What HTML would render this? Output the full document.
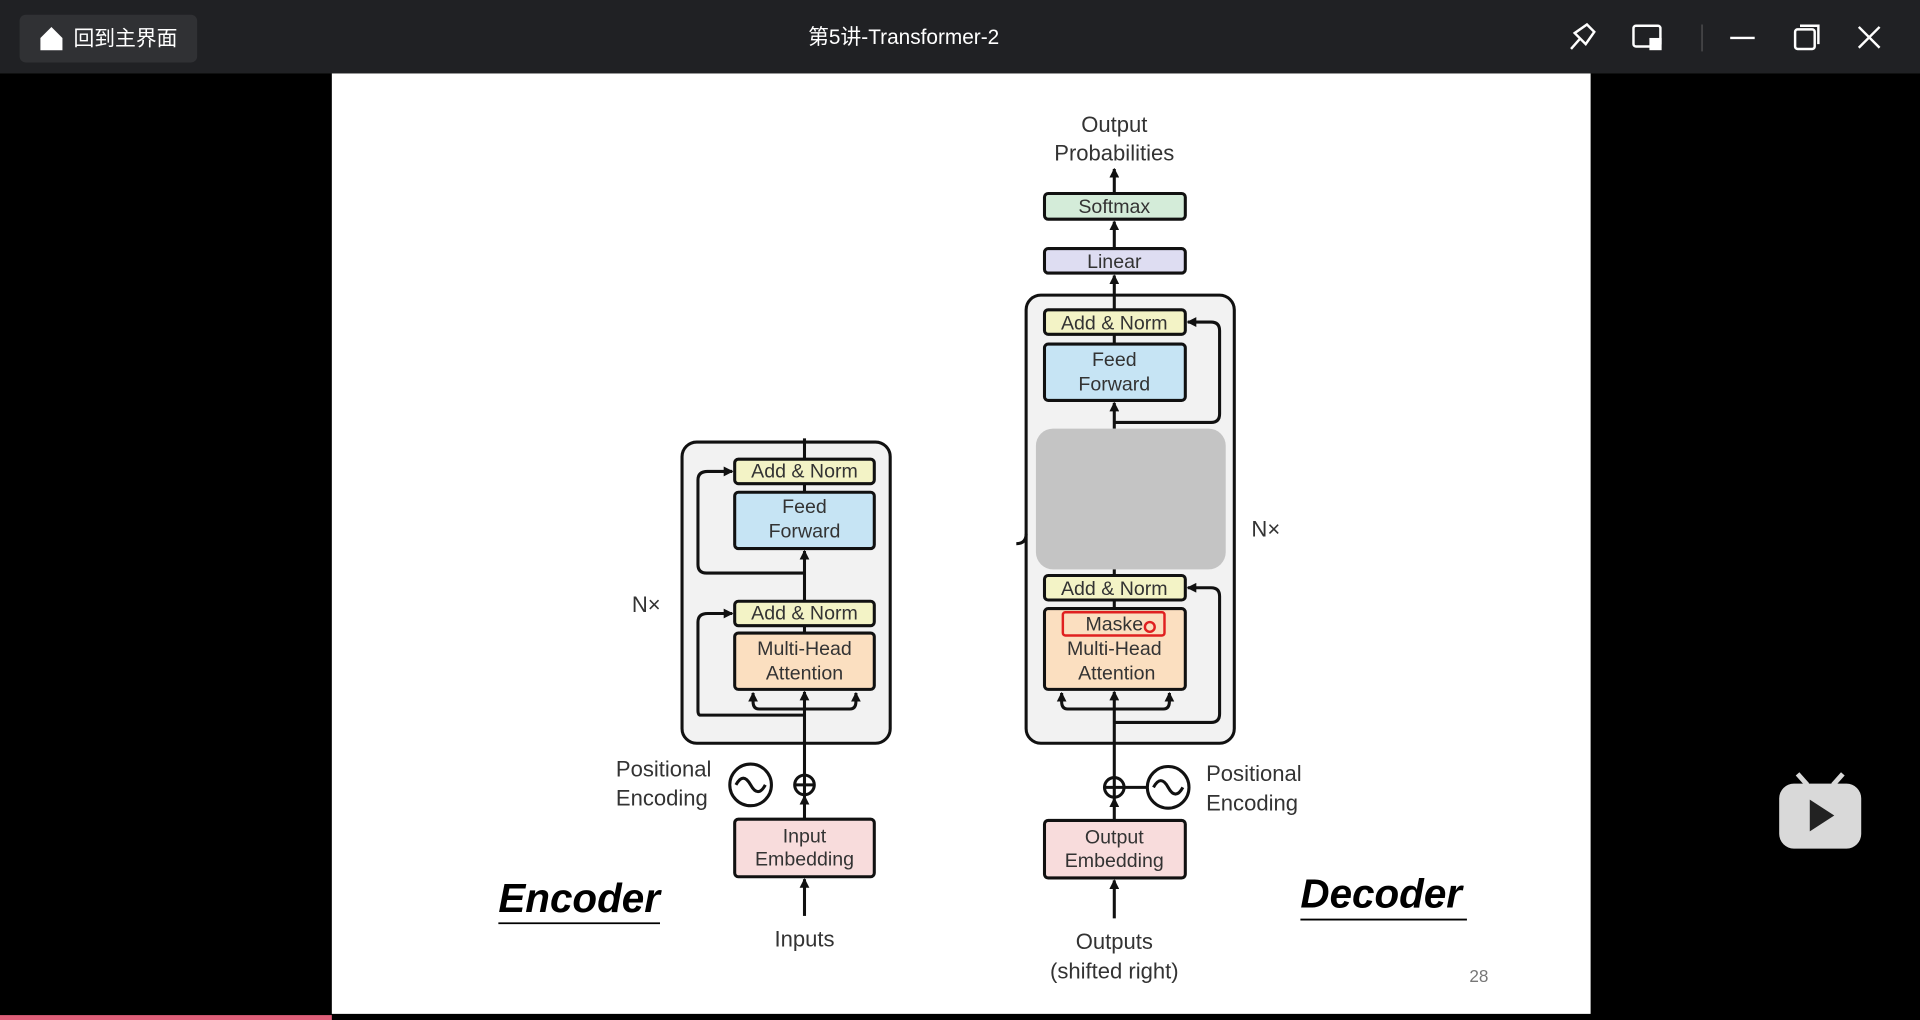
<!DOCTYPE html>
<html><head><meta charset="utf-8"><style>
html,body{margin:0;padding:0;background:#000;width:1920px;height:1020px;overflow:hidden}
svg{display:block}
text{font-family:"Liberation Sans","Noto Sans CJK SC",sans-serif}
</style></head><body>
<svg width="1920" height="1020" viewBox="0 0 1568 833" xmlns="http://www.w3.org/2000/svg">
<defs><marker id="a" markerWidth="8" markerHeight="8" refX="7" refY="4" orient="auto" markerUnits="userSpaceOnUse"><path d="M0,0 L8,4 L0,8 Z" fill="#111"/></marker></defs>
<rect width="1568" height="833" fill="#000"/>
<rect width="1568" height="60" fill="#202124"/>
<rect x="16" y="12" width="145" height="39" rx="5" fill="#303134"/>
<path d="M33,31 L42,22 L51,31 L51,41 L33,41 Z" fill="#fff"/>
<text x="60" y="37" font-size="17" fill="#fff">回到主界面</text>
<text x="738" y="36" font-size="17" fill="#fff" text-anchor="middle">第5讲-Transformer-2</text>
<g stroke="#fff" stroke-width="2" fill="none">
<path d="M1283,40 L1290,32 M1286,27 L1296,20 L1302,26 L1295,36 Z"/>
<rect x="1334" y="21" width="22" height="17" rx="2"/><rect x="1348" y="32" width="8" height="8" fill="#fff"/>
<path d="M1413,31 L1433,31"/>
<rect x="1466" y="24" width="16" height="16" rx="2"/><path d="M1470,21 L1485,21 L1485,36"/>
<path d="M1518,22 L1535,39 M1535,22 L1518,39"/>
</g>
<line x1="1390" y1="20" x2="1390" y2="42" stroke="#555"/>
<rect x="271" y="60" width="1028" height="768" fill="#fff"/>
<rect x="0" y="829" width="271" height="4" fill="#e0607a"/>
<g stroke="#111" stroke-width="2.5">
<rect x="557" y="361" width="170" height="246" rx="12" fill="#f2f2f2"/>
<rect x="838" y="241" width="170" height="366" rx="12" fill="#f2f2f2"/>
</g>
<g stroke="#111" stroke-width="2.5" rx="4">
<rect x="600" y="375" width="114" height="20" rx="3" fill="#f3f3c6"/>
<rect x="600" y="402" width="114" height="46" rx="3" fill="#c6e4f4"/>
<rect x="600" y="491" width="114" height="20" rx="3" fill="#f3f3c6"/>
<rect x="600" y="517" width="114" height="46" rx="3" fill="#fbdfc0"/>
<rect x="600" y="669" width="114" height="47" rx="3" fill="#f8dcdc"/>
<rect x="853" y="158" width="115" height="21" rx="3" fill="#d4ecd9"/>
<rect x="853" y="203" width="115" height="20" rx="3" fill="#deddf2"/>
<rect x="853" y="253" width="115" height="20" rx="3" fill="#f3f3c6"/>
<rect x="853" y="281" width="115" height="46" rx="3" fill="#c6e4f4"/>
<rect x="853" y="470" width="115" height="20" rx="3" fill="#f3f3c6"/>
<rect x="853" y="497" width="115" height="66" rx="3" fill="#fbdfc0"/>
<rect x="853" y="670" width="115" height="47" rx="3" fill="#f8dcdc"/>
</g>
<rect x="846" y="350" width="155" height="115" rx="14" fill="#c4c4c4"/>
<rect x="868" y="500" width="83" height="19" rx="2" fill="none" stroke="#e02020" stroke-width="2"/>
<circle cx="939" cy="512" r="4" fill="none" stroke="#e02020" stroke-width="2"/>
<g stroke="#111" stroke-width="2.5" fill="none">
<line x1="657" y1="748" x2="657" y2="718" marker-end="url(#a)"/>
<line x1="657" y1="669" x2="657" y2="650" marker-end="url(#a)"/>
<circle cx="657" cy="641" r="8"/><path d="M649,641 L665,641 M657,633 L657,649"/>
<line x1="657" y1="633" x2="657" y2="565" marker-end="url(#a)"/>
<path d="M657,584 L572,584 Q570,584 570,580 L570,508 Q570,501 578,501 L598,501" marker-end="url(#a)"/>
<path d="M657,579 L620,579 Q615,579 615,573 L615,566" marker-end="url(#a)"/>
<path d="M657,579 L694,579 Q699,579 699,573 L699,566" marker-end="url(#a)"/>
<line x1="657" y1="511" x2="657" y2="517"/>
<line x1="657" y1="491" x2="657" y2="450" marker-end="url(#a)"/>
<path d="M657,468 L577,468 Q570,468 570,461 L570,392 Q570,385 578,385 L598,385" marker-end="url(#a)"/>
<line x1="657" y1="395" x2="657" y2="402"/>
<line x1="657" y1="375" x2="657" y2="358"/>
<circle cx="613" cy="641" r="17"/><path d="M601,641 Q607,630 613,641 Q619,652 625,641"/>
<line x1="596" y1="641" x2="596" y2="641"/>
<line x1="910" y1="750" x2="910" y2="719" marker-end="url(#a)"/>
<line x1="910" y1="670" x2="910" y2="652" marker-end="url(#a)"/>
<circle cx="910" cy="643" r="8"/><path d="M902,643 L918,643 M910,635 L910,651"/>
<line x1="918" y1="643" x2="937" y2="643"/>
<circle cx="954" cy="643" r="17"/><path d="M942,643 Q948,632 954,643 Q960,654 966,643"/>
<line x1="910" y1="635" x2="910" y2="565" marker-end="url(#a)"/>
<path d="M910,590 L989,590 Q996,590 996,583 L996,487 Q996,480 989,480 L970,480" marker-end="url(#a)"/>
<path d="M910,579 L872,579 Q867,579 867,573 L867,566" marker-end="url(#a)"/>
<path d="M910,579 L950,579 Q955,579 955,573 L955,566" marker-end="url(#a)"/>
<line x1="910" y1="490" x2="910" y2="497"/>
<line x1="910" y1="465" x2="910" y2="470"/>
<line x1="910" y1="350" x2="910" y2="329" marker-end="url(#a)"/>
<path d="M910,345 L989,345 Q996,345 996,338 L996,270 Q996,263 989,263 L970,263" marker-end="url(#a)"/>
<line x1="910" y1="273" x2="910" y2="281"/>
<line x1="910" y1="253" x2="910" y2="225" marker-end="url(#a)"/>
<line x1="910" y1="203" x2="910" y2="181" marker-end="url(#a)"/>
<line x1="910" y1="158" x2="910" y2="138" marker-end="url(#a)"/>
<path d="M830,444 Q838,444 838,436"/>
</g>
<g font-size="16" fill="#333" text-anchor="middle">
<text x="657" y="390">Add &amp; Norm</text>
<text x="657" y="419">Feed</text><text x="657" y="439">Forward</text>
<text x="657" y="506">Add &amp; Norm</text>
<text x="657" y="535">Multi-Head</text><text x="657" y="555">Attention</text>
<text x="657" y="688">Input</text><text x="657" y="707">Embedding</text>
<text x="657" y="773" font-size="18">Inputs</text>
<text x="910" y="174">Softmax</text>
<text x="910" y="219">Linear</text>
<text x="910" y="269">Add &amp; Norm</text>
<text x="910" y="299">Feed</text><text x="910" y="319">Forward</text>
<text x="910" y="486">Add &amp; Norm</text>
<text x="910" y="515">Maske</text>
<text x="910" y="535">Multi-Head</text><text x="912" y="555">Attention</text>
<text x="910" y="689">Output</text><text x="910" y="708">Embedding</text>
<text x="910" y="775" font-size="18">Outputs</text>
<text x="910" y="799" font-size="18">(shifted right)</text>
<text x="910" y="108" font-size="18">Output</text>
<text x="910" y="131" font-size="18">Probabilities</text>
</g>
<g font-size="18" fill="#333">
<text x="503" y="634">Positional</text><text x="503" y="658">Encoding</text>
<text x="985" y="638">Positional</text><text x="985" y="662">Encoding</text>
<text x="516" y="500">N×</text>
<text x="1022" y="438">N×</text>
</g>
<text x="407" y="745" font-size="33" font-weight="bold" font-style="italic" fill="#000">Encoder</text>
<line x1="407" y1="754" x2="539" y2="754" stroke="#000" stroke-width="1.5"/>
<text x="1062" y="741" font-size="33" font-weight="bold" font-style="italic" fill="#000">Decoder</text>
<line x1="1062" y1="751" x2="1198" y2="751" stroke="#000" stroke-width="1.5"/>
<text x="1200" y="802" font-size="14" fill="#777">28</text>
<rect x="1453" y="640" width="67" height="53" rx="12" fill="#d9d9d9"/>
<path d="M1468,632 L1476,641 M1505,632 L1497,641" stroke="#d9d9d9" stroke-width="4"/>
<path d="M1478,653 L1498,666 L1478,679 Z" fill="#222"/>
</svg>
</body></html>
